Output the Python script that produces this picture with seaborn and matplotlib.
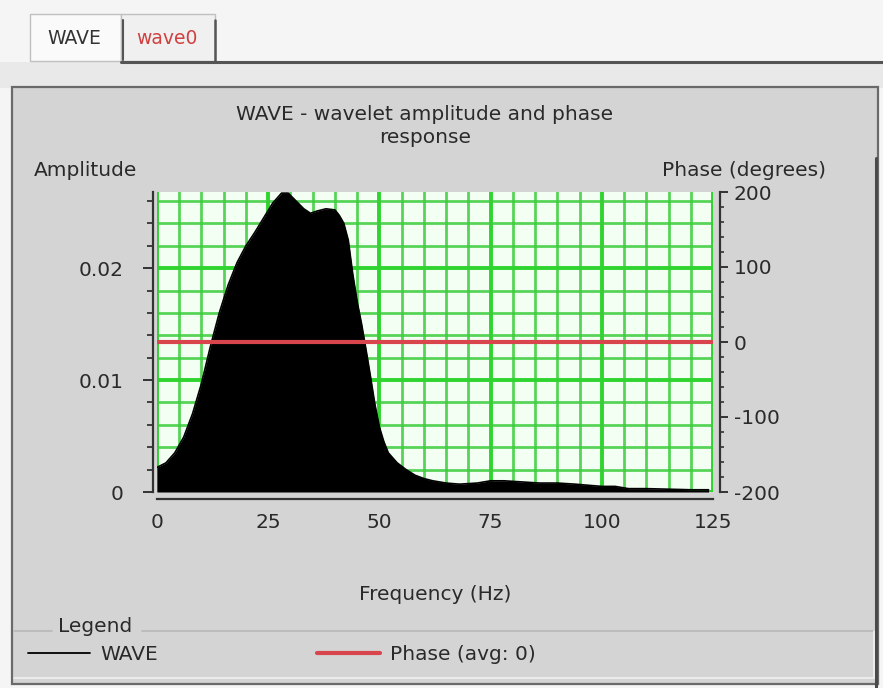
import matplotlib
matplotlib.use("Agg")
import matplotlib.pyplot as plt
from matplotlib.patches import Rectangle
from matplotlib.lines import Line2D
from matplotlib.ticker import MultipleLocator, FixedLocator
import seaborn as sns
import pandas as pd

# ---- data ----
freq_hz = [0, 2, 4, 6, 8, 10, 12, 14, 16, 18, 20, 22, 24, 26, 28, 29.5, 31, 33,
           34.5, 36, 38, 40, 41, 42, 43, 44, 45, 46, 47, 48, 49, 50, 51, 52, 54,
           56, 58, 60, 62, 65, 68, 72, 75, 78, 82, 86, 90, 94, 97, 100, 103, 106,
           110, 115, 120, 124]
amplitude = [0.0022, 0.0026, 0.0035, 0.0049, 0.0070, 0.0097, 0.0130, 0.0160,
             0.0185, 0.0205, 0.0220, 0.0232, 0.0245, 0.0258, 0.0267, 0.0267,
             0.0261, 0.0253, 0.0249, 0.0251, 0.0253, 0.0252, 0.0247, 0.0240,
             0.0225, 0.0195, 0.0170, 0.0150, 0.0127, 0.0103, 0.0078, 0.0058,
             0.0045, 0.0035, 0.0026, 0.0020, 0.0015, 0.0012, 0.0010, 0.0008,
             0.0007, 0.0008, 0.0010, 0.0010, 0.0009, 0.0008, 0.0008, 0.0007,
             0.0006, 0.0005, 0.0005, 0.0003, 0.0003, 0.00025, 0.0002, 0.0002]
phase_freq = [0, 125]
phase_deg = [0, 0]

x_ticks = [0, 25, 50, 75, 100, 125]
amp_ticks = [0, 0.01, 0.02]
amp_tick_labels = ["0", "0.01", "0.02"]
phase_ticks = [-200, -100, 0, 100, 200]

title_text = "WAVE - wavelet amplitude and phase\nresponse"
legend_labels = ["WAVE", "Phase (avg: 0)"]

amp_df = pd.DataFrame({"Frequency": freq_hz, "Amplitude": amplitude})
phase_df = pd.DataFrame({"Frequency": phase_freq, "Phase": phase_deg})

# ---- style ----
sns.set_style("white")
plt.rcParams["font.family"] = ["DejaVu Sans"]
plt.rcParams["axes.unicode_minus"] = False
TXT = "#2a2a2a"
PANEL = "#d4d4d4"
GREEN = "#3ccc3c"
RED = "#d8454d"
FS = 14.5

W, H = 883, 688
fig = plt.figure(figsize=(W / 100, H / 100), dpi=100)
fig.patch.set_facecolor("#f5f5f5")


def fx(px):
    return px / W


def fy(py):
    return 1 - py / H


def frect(x0, y0, x1, y1, **kw):
    r = Rectangle((fx(x0), fy(y1)), fx(x1) - fx(x0), fy(y0) - fy(y1),
                  transform=fig.transFigure, zorder=-10, **kw)
    fig.patches.append(r)


def fline(xs, ys, **kw):
    fig.lines.append(Line2D([fx(v) for v in xs], [fy(v) for v in ys],
                            transform=fig.transFigure, zorder=-5, **kw))


# UI chrome: tabs, strip, panel
frect(0, 62, W, 88, facecolor="#e9e9e9", edgecolor="none")
frect(12, 87, 878, 684, facecolor=PANEL, edgecolor="#6a6a6a", lw=1.6)
frect(30, 14, 121, 61, facecolor="#fafafa", edgecolor="#c0c0c0", lw=1)
frect(121, 14, 215, 61, facecolor="#f0f0f0", edgecolor="#c0c0c0", lw=1)
fline([123, 123], [20, 60], color="#555555", lw=1.5)
fline([215, 215], [20, 62], color="#555555", lw=1.8)
fline([121, W], [61.5, 61.5], color="#555555", lw=2.2)
fline([876, 876], [158, 688], color="#4a4a4a", lw=2.2)
fig.text(fx(74), fy(39), "WAVE", ha="center", va="center", fontsize=13.5, color="#333333")
fig.text(fx(167), fy(39), "wave0", ha="center", va="center", fontsize=13.5, color="#d04040")

# ---- axes ----
ax = fig.add_axes([fx(157), fy(492), fx(713) - fx(157), fy(192) - fy(492)])
ax.set_facecolor("#f4fff4")

ax.fill_between(amp_df["Frequency"], amp_df["Amplitude"], 0, color="black", zorder=3, lw=0)
sns.lineplot(data=amp_df, x="Frequency", y="Amplitude", ax=ax, color="black",
             lw=1.2, zorder=4, legend=False)

ax.set_xlim(0, 125)
ax.set_ylim(0, 0.0268)
ax.xaxis.set_major_locator(FixedLocator(x_ticks))
ax.xaxis.set_minor_locator(MultipleLocator(5))
ax.yaxis.set_major_locator(FixedLocator(amp_ticks))
ax.set_yticklabels(amp_tick_labels)
ax.yaxis.set_minor_locator(MultipleLocator(0.002))

ax.grid(which="minor", color=GREEN, lw=2.0, alpha=0.85, zorder=1)
ax.grid(which="major", color="#2fd42f", lw=2.8, zorder=1)
ax.set_axisbelow(True)

for s in ["top", "right"]:
    ax.spines[s].set_visible(False)
ax.spines["left"].set_position(("outward", 3))
ax.spines["bottom"].set_position(("outward", 5))
for s in ["left", "bottom"]:
    ax.spines[s].set_color("#333333")
    ax.spines[s].set_linewidth(1.6)

ax.tick_params(axis="both", which="major", direction="out", length=7, width=1.4,
               color="#333333", labelsize=FS, labelcolor=TXT)
ax.tick_params(axis="both", which="minor", direction="out", length=4, width=1.3,
               color="#333333")
ax.tick_params(axis="y", which="major", pad=14)
ax.tick_params(axis="x", which="major", pad=3)
ax.set_ylabel("")
ax.set_xlabel("Frequency (Hz)", fontsize=FS, color=TXT, labelpad=38)

ax2 = ax.twinx()
sns.lineplot(data=phase_df, x="Frequency", y="Phase", ax=ax2, color=RED, lw=3,
             legend=False)
ax2.set_ylim(-200, 200)
ax2.yaxis.set_major_locator(FixedLocator(phase_ticks))
ax2.yaxis.set_minor_locator(MultipleLocator(20))
ax2.set_ylabel("")
ax2.grid(False)
for s in ["top", "left", "bottom"]:
    ax2.spines[s].set_visible(False)
ax2.spines["right"].set_position(("outward", 5))
ax2.spines["right"].set_color("#333333")
ax2.spines["right"].set_linewidth(1.6)
ax2.tick_params(axis="y", which="major", direction="out", length=6, width=1.4,
                color="#333333", labelsize=FS, labelcolor=TXT, pad=4)
ax2.tick_params(axis="y", which="minor", direction="out", length=3, width=1.2,
                color="#333333")

# ---- texts ----
fig.text(fx(425), fy(126), title_text, ha="center", va="center", fontsize=FS,
         color=TXT, linespacing=1.3)
fig.text(fx(34), fy(170), "Amplitude", ha="left", va="center", fontsize=FS, color=TXT)
fig.text(fx(826), fy(170), "Phase (degrees)", ha="right", va="center", fontsize=FS,
         color=TXT)

# ---- legend group box ----
fline([14, 52], [631, 631], color="#b8b8b8", lw=1.2)
fline([142, 874], [631, 631], color="#b8b8b8", lw=1.2)
fline([874, 874], [631, 678], color="#f0f0f0", lw=1.2)
fline([14, 874], [678, 678], color="#f0f0f0", lw=1.2)
fig.text(fx(58), fy(627), "Legend", ha="left", va="center", fontsize=FS, color=TXT)

handles = [Line2D([], [], color="black", lw=1.3), Line2D([], [], color=RED, lw=3)]
leg = fig.legend(handles, legend_labels, loc="center left",
                 bbox_to_anchor=(fx(28), fy(655)), ncol=2, frameon=False,
                 fontsize=FS, handlelength=3.1, handletextpad=0.5,
                 columnspacing=7.9, borderpad=0, borderaxespad=0)
for t in leg.get_texts():
    t.set_color(TXT)

fig.savefig("out.png", dpi=100, facecolor=fig.get_facecolor())
